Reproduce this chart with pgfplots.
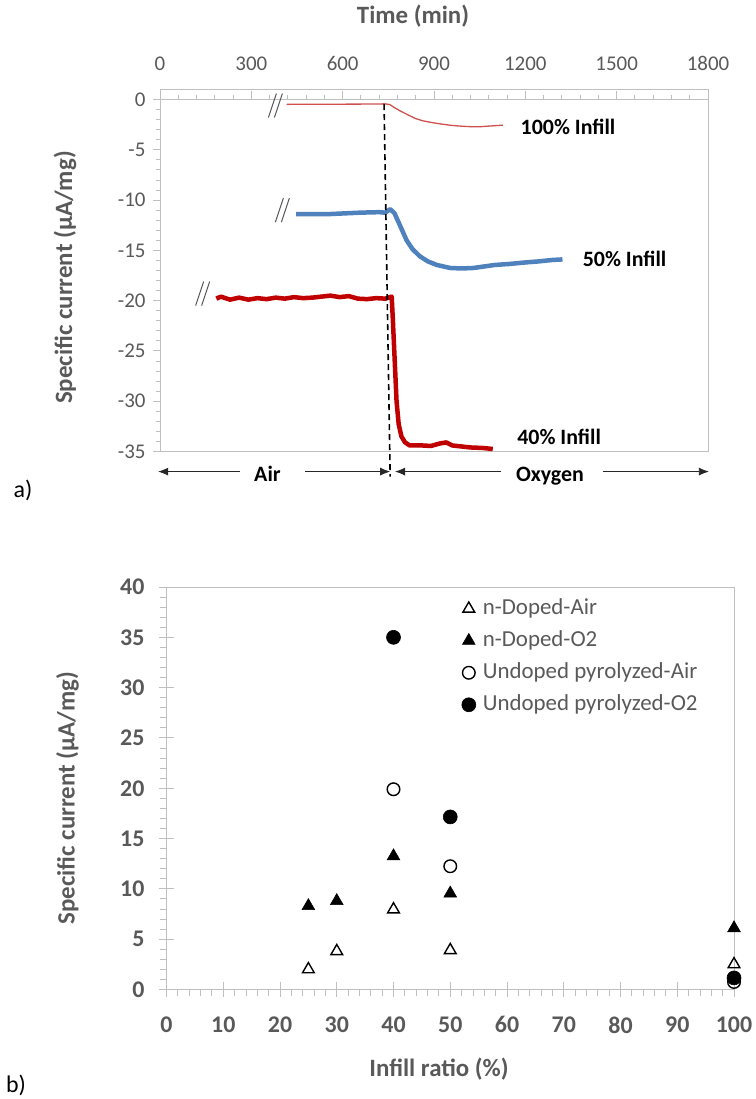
\documentclass[border=0pt]{standalone}
\usepackage{fontspec}
\setmainfont{Carlito}
\usepackage{pgfplots}
\pgfplotsset{compat=1.18}
\usetikzlibrary{arrows.meta}

\definecolor{txtgray}{HTML}{595959}
\definecolor{axgray}{HTML}{BFBFBF}
\definecolor{darkred}{HTML}{C00000}
\definecolor{infblue}{HTML}{4F81BD}
\definecolor{lightred}{HTML}{D05050}

\newcommand{\tickfont}{\fontsize{21}{24}\selectfont}
\newcommand{\titlefont}{\bfseries\fontsize{25}{28}\selectfont}
\newcommand{\lblfont}{\bfseries\fontsize{22}{26}\selectfont}

\begin{document}
\begin{tikzpicture}[x=1bp,y=1bp]
\path[use as bounding box] (0,0) rectangle (756,1099);

% ---------- a) current vs time ----------
\begin{axis}[
  at={(160bp,647.5bp)}, anchor=south west,
  scale only axis, width=548bp, height=362bp,
  xmin=0, xmax=1800, ymin=-35, ymax=1,
  axis line style={draw=axgray, line width=0.9bp},
  xtick={0,300,...,1800}, xtick pos=top, xticklabel pos=upper,
  xtick style={draw=none},
  ytick={0,-5,...,-35}, minor y tick num=4, ytick pos=left,
  tick align=outside, major tick length=7bp, minor tick length=4bp,
  ytick style={draw=axgray, line width=0.9bp},
  /pgf/number format/assume math mode=true,
  /pgf/number format/1000 sep={},
  xticklabel style={font=\tickfont, text=txtgray, yshift=8bp},
  yticklabel style={font=\tickfont, text=txtgray, xshift=-4bp},
  clip=false,
]
% axis line at y = 0 with its ticks
\draw[axgray, line width=0.9bp] (axis cs:0,0) -- (axis cs:1800,0);
\pgfplotsinvokeforeach{0,60,...,1800}{\draw[axgray, line width=0.9bp] (axis cs:#1,0) -- ++(0bp,5bp);}
\pgfplotsinvokeforeach{0,300,...,1800}{\draw[axgray, line width=0.9bp] (axis cs:#1,0) -- ++(0bp,9bp);}

% 100% infill
\addplot[lightred, line width=1.3bp] coordinates {
(416,-0.48) (500,-0.47) (600,-0.46) (700,-0.45) (739,-0.43) (755,-0.5)
(770,-0.8) (790,-1.15) (816,-1.55) (840,-1.9) (864,-2.12) (895,-2.3)
(927,-2.45) (960,-2.58) (990,-2.65) (1020,-2.7) (1053,-2.7) (1090,-2.62) (1126,-2.55)};
% 50% infill
\addplot[infblue, line width=4.5bp, line join=round] coordinates {
(447,-11.4) (550,-11.4) (657,-11.25) (720,-11.2) (740,-11.25) (756,-10.9)
(770,-11.3) (785,-12.3) (810,-14.0) (830,-14.9) (854,-15.6) (880,-16.1)
(909,-16.45) (953,-16.75) (990,-16.8) (1030,-16.75) (1053,-16.65) (1100,-16.45)
(1148,-16.35) (1200,-16.2) (1243,-16.1) (1290,-15.95) (1322,-15.9)};
% 40% infill
\addplot[darkred, line width=4.5bp, line join=round] coordinates {
(185,-19.8) (200,-19.6) (230,-19.9) (260,-19.7) (290,-19.9) (320,-19.75)
(350,-19.85) (380,-19.7) (410,-19.8) (440,-19.65) (470,-19.75) (500,-19.7)
(530,-19.6) (560,-19.5) (590,-19.65) (620,-19.55) (650,-19.8) (680,-19.85)
(710,-19.75) (740,-19.8) (761,-19.6) (765,-22) (771,-26) (777,-30)
(784,-32.3) (793,-33.5) (805,-34.1) (820,-34.4) (860,-34.4) (890,-34.45)
(920,-34.2) (940,-34.1) (960,-34.4) (990,-34.5) (1020,-34.6) (1060,-34.65) (1093,-34.75)};

% gas switch
\draw[black, line width=1.6bp, dash pattern=on 6bp off 4bp] (axis cs:736,-0.45) -- (axis cs:756,-37.5);

% axis break marks
\draw[txtgray, line width=1bp] (axis cs:379,-0.6) ++(-7bp,-12bp) -- ++(8bp,24bp);
\draw[txtgray, line width=1bp] (axis cs:379,-0.6) ++(-1bp,-12bp) -- ++(8bp,24bp);
\draw[txtgray, line width=1bp] (axis cs:402,-11.0) ++(-7bp,-12bp) -- ++(8bp,24bp);
\draw[txtgray, line width=1bp] (axis cs:402,-11.0) ++(-1bp,-12bp) -- ++(8bp,24bp);
\draw[txtgray, line width=1bp] (axis cs:140,-19.3) ++(-7bp,-12bp) -- ++(8bp,24bp);
\draw[txtgray, line width=1bp] (axis cs:140,-19.3) ++(-1bp,-12bp) -- ++(8bp,24bp);

% series labels
\node[anchor=west, inner sep=0, font=\lblfont] at (axis cs:1184,-2.7) {100\% Infill};
\node[anchor=west, inner sep=0, font=\lblfont] at (axis cs:1388,-15.86) {50\% Infill};
\node[anchor=west, inner sep=0, font=\lblfont] at (axis cs:1173,-33.55) {40\% Infill};

% atmosphere arrows
\draw[-{Latex[length=10bp,width=8bp]}, line width=0.8bp, black!85] (axis cs:263,-37) -- (axis cs:-6,-37);
\draw[-{Latex[length=10bp,width=8bp]}, line width=0.8bp, black!85] (axis cs:476,-37) -- (axis cs:756,-37);
\draw[-{Latex[length=10bp,width=8bp]}, line width=0.8bp, black!85] (axis cs:1120,-37) -- (axis cs:772,-37);
\draw[-{Latex[length=10bp,width=8bp]}, line width=0.8bp, black!85] (axis cs:1455,-37) -- (axis cs:1803,-37);
\node[anchor=base, inner sep=0, font=\lblfont] at (axis cs:353,-38) {Air};
\node[anchor=base, inner sep=0, font=\lblfont] at (axis cs:1281,-38) {Oxygen};
\end{axis}

\node[font=\titlefont, text=txtgray] at (413,1083) {Time (min)};
\node[font=\titlefont, text=txtgray, rotate=90] at (65,821.5) {Specific current (µA/mg)};
\node[font=\fontsize{24}{28}\selectfont] at (23,609) {a)};

% ---------- b) current vs infill ratio ----------
\begin{axis}[
  at={(166.5bp,109.5bp)}, anchor=south west,
  scale only axis, width=567.5bp, height=402.5bp,
  xmin=0, xmax=100, ymin=0, ymax=40,
  xtick={0,10,...,100}, ytick={0,5,...,40},
  minor x tick num=4, minor y tick num=4,
  xtick pos=bottom, ytick pos=left,
  tick align=center, major tick length=15bp, minor tick length=7bp,
  minor x tick style={yshift=-3.5bp},
  minor y tick style={xshift=-3.5bp},
  tick style={draw=axgray, line width=0.9bp},
  axis line style={draw=axgray, line width=0.9bp},
  /pgf/number format/assume math mode=true,
  ticklabel style={font=\bfseries\fontsize{24}{28}\selectfont, text=txtgray},
  xticklabel style={yshift=-16bp},
  yticklabel style={xshift=-11bp},
  legend style={at={(axis cs:52,38.9)}, anchor=north west, draw=none, fill=none,
    font=\fontsize{23}{27}\selectfont, text=txtgray, row sep=11bp, inner sep=0bp,
    nodes={inner sep=0bp, text height=16bp, text depth=5bp}},
  legend cell align=left,
  legend image code/.code={\draw[#1] plot coordinates {(0bp,0bp)};
    \path[draw=none, fill=none] (0bp,-1bp) rectangle (14bp,1bp);},
  clip=false,
]
\addplot[only marks, mark=triangle, mark size=6.8bp, black, line width=1.4bp, mark options={fill=white}]
  coordinates {(25,2.0) (30,3.8) (40,7.95) (50,3.9) (100,2.5)};
\addlegendentry{n-Doped-Air}
\addplot[only marks, mark=triangle*, mark size=7.3bp, black, line width=0.6bp]
  coordinates {(25,8.3) (30,8.8) (40,13.25) (50,9.55) (100,6.1)};
\addlegendentry{n-Doped-O2}
\addplot[only marks, mark=o, mark size=6.3bp, black, line width=1.4bp, mark options={fill=white}]
  coordinates {(40,19.9) (50,12.25) (100,0.75)};
\addlegendentry{Undoped pyrolyzed-Air}
\addplot[only marks, mark=*, mark size=7bp, black, line width=0.6bp]
  coordinates {(40,35.0) (50,17.15) (100,1.15)};
\addlegendentry{Undoped pyrolyzed-O2}
\end{axis}

\node[font=\titlefont, text=txtgray] at (439,30) {Infill ratio (\%)};
\node[font=\titlefont, text=txtgray, rotate=90] at (67.5,301) {Specific current (µA/mg)};
\node[font=\fontsize{24}{28}\selectfont] at (16,14) {b)};
\end{tikzpicture}
\end{document}
